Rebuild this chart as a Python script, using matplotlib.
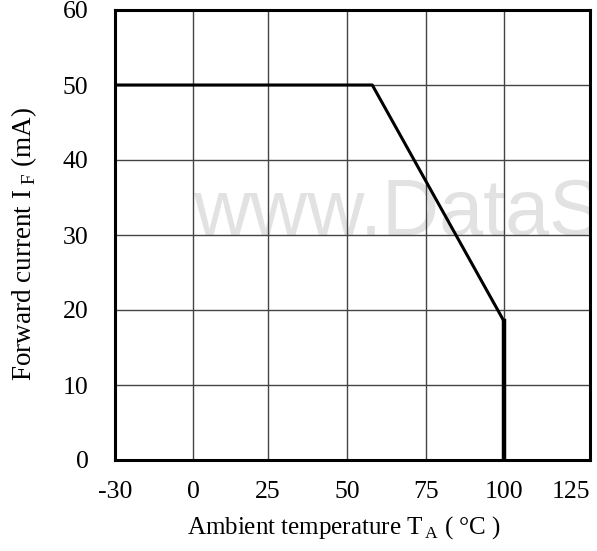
import matplotlib
matplotlib.use('Agg')
import matplotlib.pyplot as plt
import numpy as np

# derating curve: forward current vs ambient temperature
temp = [-30, 58, 100, 100]
current = [50, 50, 18.5, 0]

x_ticks = [-30, 0, 25, 50, 75, 100, 125]
y_ticks = [0, 10, 20, 30, 40, 50, 60]

# the datasheet axis is not linear: ticks are (almost) evenly spaced
tick_pos = [0, 78, 153, 232, 311, 389, 475]


def fwd(t):
    return np.interp(t, x_ticks, tick_pos, left=-1e9, right=1e9)


def inv(p):
    return np.interp(p, tick_pos, x_ticks)


plt.rcParams['font.family'] = ['Liberation Serif', 'DejaVu Serif']
plt.rcParams['mathtext.fontset'] = 'custom'
plt.rcParams['mathtext.rm'] = 'Liberation Serif'

fig = plt.figure(figsize=(5.97, 5.51), dpi=100)
ax = fig.add_axes([115 / 597, 91 / 551, 475 / 597, 450 / 551])
ax.set_xscale('function', functions=(fwd, inv))
ax.set_xlim(-30, 125)
ax.set_ylim(0, 60)

ax.set_xticks(x_ticks)
ax.set_yticks(y_ticks)
ax.set_xticklabels([str(v) for v in x_ticks], fontsize=18.5)
ax.set_yticklabels([str(v) for v in y_ticks], fontsize=18.5)
ax.get_xticklabels()[-1].set_horizontalalignment('right')
ax.tick_params(length=0, pad=15, axis='x')
ax.tick_params(length=0, pad=19, axis='y')

ax.grid(True, color='#444444', linewidth=1.0)
ax.set_axisbelow(True)
for s in ax.spines.values():
    s.set_linewidth(2.2)

ax.text(0.165, 0.545, 'www.DataS', transform=ax.transAxes, fontsize=57,
        family='Liberation Sans', color='#e2e2e2', va='center', ha='left',
        zorder=0, clip_on=True)

ax.plot(temp[:3], current[:3], color='black', linewidth=2.2, zorder=3)
ax.plot(temp[2:], current[2:], color='black', linewidth=3.2, zorder=3)

ax.set_xlabel(r'Ambient temperature T$_\mathregular{\,A}$ ( °C )', fontsize=18)
ax.set_ylabel(r'Forward current I$_\mathregular{\;F}$ (mA)', fontsize=19.5)
ax.xaxis.set_label_coords(0.482, -0.12)
ax.yaxis.set_label_coords(-0.16, 0.48)

plt.savefig('out.png', dpi=100)
